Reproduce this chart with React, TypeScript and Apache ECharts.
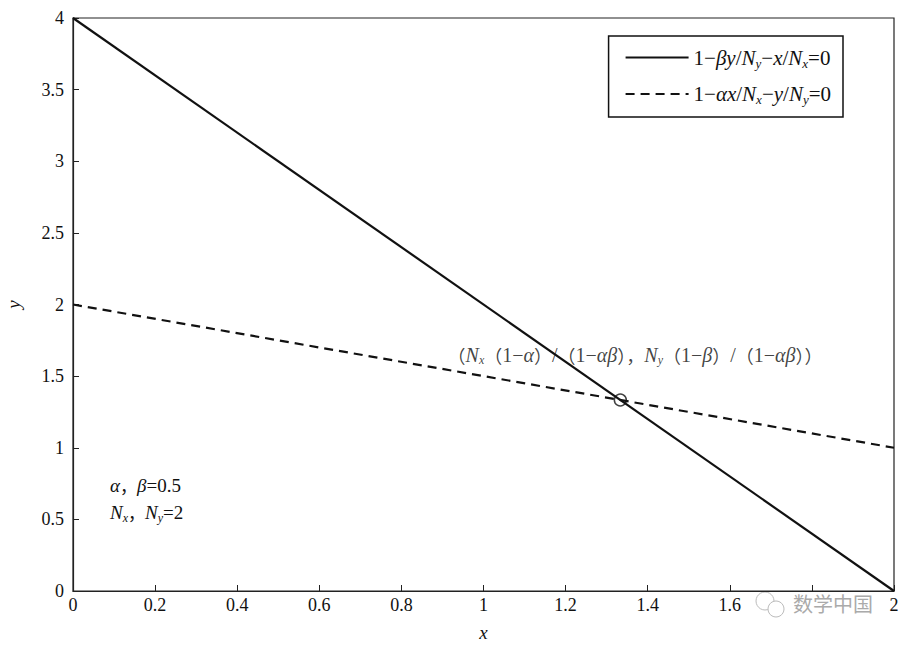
import React, { useEffect, useRef } from "react";
import * as echarts from "echarts";

const xTicks = [0, 0.2, 0.4, 0.6, 0.8, 1, 1.2, 1.4, 1.6, 1.8, 2];
const hiddenXTick = 1.8; // covered by the watermark in the reference
const yTicks = [0, 0.5, 1, 1.5, 2, 2.5, 3, 3.5, 4];
const solidLine: [number, number][] = [[0, 4], [2, 0]];
const dashedLine: [number, number][] = [[0, 2], [2, 1]];
const intersection: [number, number][] = [[4 / 3, 4 / 3]];
const seriesNames = ["solid", "dashed"];

const FONT = "'Liberation Serif', 'Times New Roman', serif";
const CJK = "'Noto Sans CJK SC', sans-serif";

const mkRich = (fs: number) => ({
  i: { fontFamily: FONT, fontStyle: "italic", fontSize: fs, color: "#111" },
  n: { fontFamily: FONT, fontSize: fs, color: "#111" },
  sub: { fontFamily: FONT, fontStyle: "italic", fontSize: Math.round(fs * 0.62), color: "#111", padding: [Math.round(fs * 0.5), 0, 0, 0] },
  c: { fontFamily: CJK, fontSize: fs - 2, color: "#111" },
});

export default function App() {
  const ref = useRef<HTMLDivElement>(null);
  useEffect(() => {
    if (!ref.current) return;
    const chart = echarts.init(ref.current, null, { renderer: "svg" });
    chart.setOption({
      animation: false,
      backgroundColor: "#fff",
      grid: {
        left: 73, right: 14, top: 18, bottom: 56,
        show: true, borderColor: "#222", borderWidth: 1.2,
        containLabel: false, outerBoundsMode: "none",
      },
      xAxis: {
        type: "value",
        min: 0,
        max: 2,
        interval: 0.2,
        name: "x",
        nameLocation: "middle",
        nameGap: 32,
        nameTextStyle: { fontFamily: FONT, fontStyle: "italic", fontSize: 19, color: "#111" },
        axisLine: { show: true, lineStyle: { color: "#222", width: 1.2 } },
        axisTick: { show: true, inside: true, length: 6, lineStyle: { color: "#222" } },
        splitLine: { show: false },
        axisLabel: {
          fontFamily: FONT, fontSize: 18, color: "#111", margin: 5,
          formatter: (v: number) => {
            if (Math.abs(v - hiddenXTick) < 1e-9) return "";
            return String(xTicks.find((t) => Math.abs(t - v) < 1e-9) ?? v);
          },
        },
      },
      yAxis: {
        type: "value",
        min: 0,
        max: 4,
        interval: 0.5,
        name: "y",
        nameLocation: "middle",
        nameGap: 50,
        nameRotate: 90,
        nameTextStyle: { fontFamily: FONT, fontStyle: "italic", fontSize: 19, color: "#111" },
        axisLine: { show: true, lineStyle: { color: "#222", width: 1.2 } },
        axisTick: { show: true, inside: true, length: 6, lineStyle: { color: "#222" } },
        splitLine: { show: false },
        axisLabel: {
          fontFamily: FONT, fontSize: 18, color: "#111", margin: 9,
          formatter: (v: number) => String(yTicks.find((t) => Math.abs(t - v) < 1e-9) ?? v),
        },
      },
      legend: {
        right: 65,
        top: 36,
        orient: "vertical",
        data: seriesNames,
        borderColor: "#111",
        borderWidth: 1.5,
        padding: [11, 12, 11, 16],
        itemGap: 14,
        itemWidth: 63,
        itemHeight: 14,
        backgroundColor: "#fff",
        itemStyle: { opacity: 0 },
        textStyle: { fontFamily: FONT, fontSize: 21, color: "#111", rich: mkRich(21) },
        formatter: (name: string) =>
          name === "solid"
            ? "{n|1−}{i|βy}{n|/}{i|N}{sub|y}{n|−}{i|x}{n|/}{i|N}{sub|x}{n|=0}"
            : "{n|1−}{i|αx}{n|/}{i|N}{sub|x}{n|−}{i|y}{n|/}{i|N}{sub|y}{n|=0}",
      },
      series: [
        {
          name: "solid",
          type: "line",
          data: solidLine,
          symbol: "none",
          lineStyle: { color: "#111", width: 2.2, type: "solid" },
          itemStyle: { color: "#111" },
        },
        {
          name: "dashed",
          type: "line",
          data: dashedLine,
          symbol: "none",
          lineStyle: { color: "#111", width: 2.2, type: [9, 6] },
          itemStyle: { color: "#111" },
        },
        {
          name: "point",
          type: "scatter",
          data: intersection,
          symbol: "circle",
          symbolSize: 12,
          itemStyle: { color: "rgba(0,0,0,0)", borderColor: "#111", borderWidth: 1.5 },
          label: {
            show: true,
            position: [-166, -49],
            formatter:
              "{c|（}{i|N}{sub|x}{c|（}{n|1−}{i|α}{c|）}{n|/}{c|（}{n|1−}{i|αβ}{c|），}{i|N}{sub|y}{c|（}{n|1−}{i|β}{c|）}{n|/}{c|（}{n|1−}{i|αβ}{c|））}",
            rich: mkRich(20),
          },
        },
      ],
      graphic: [
        {
          type: "text",
          left: 110,
          top: 476,
          style: { text: "{i|α}{c|，}{i|β}{n|=0.5}", rich: mkRich(19), fill: "#111" },
        },
        {
          type: "text",
          left: 110,
          top: 503,
          style: { text: "{i|N}{sub|x}{c|，}{i|N}{sub|y}{n|=2}", rich: mkRich(19), fill: "#111" },
        },
        { type: "circle", shape: { cx: 765, cy: 601, r: 9 }, style: { fill: "#fff", stroke: "#bbb", lineWidth: 1 } },
        { type: "circle", shape: { cx: 776, cy: 609, r: 8 }, style: { fill: "#fff", stroke: "#bbb", lineWidth: 1 } },
        {
          type: "text",
          left: 793,
          top: 593,
          style: { text: "数学中国", fontFamily: CJK, fontSize: 20, fill: "#aaa" },
        },
      ],
    });
    return () => chart.dispose();
  }, []);
  return <div ref={ref} style={{ position: "fixed", left: 0, top: 0, width: 908, height: 647 }} />;
}
